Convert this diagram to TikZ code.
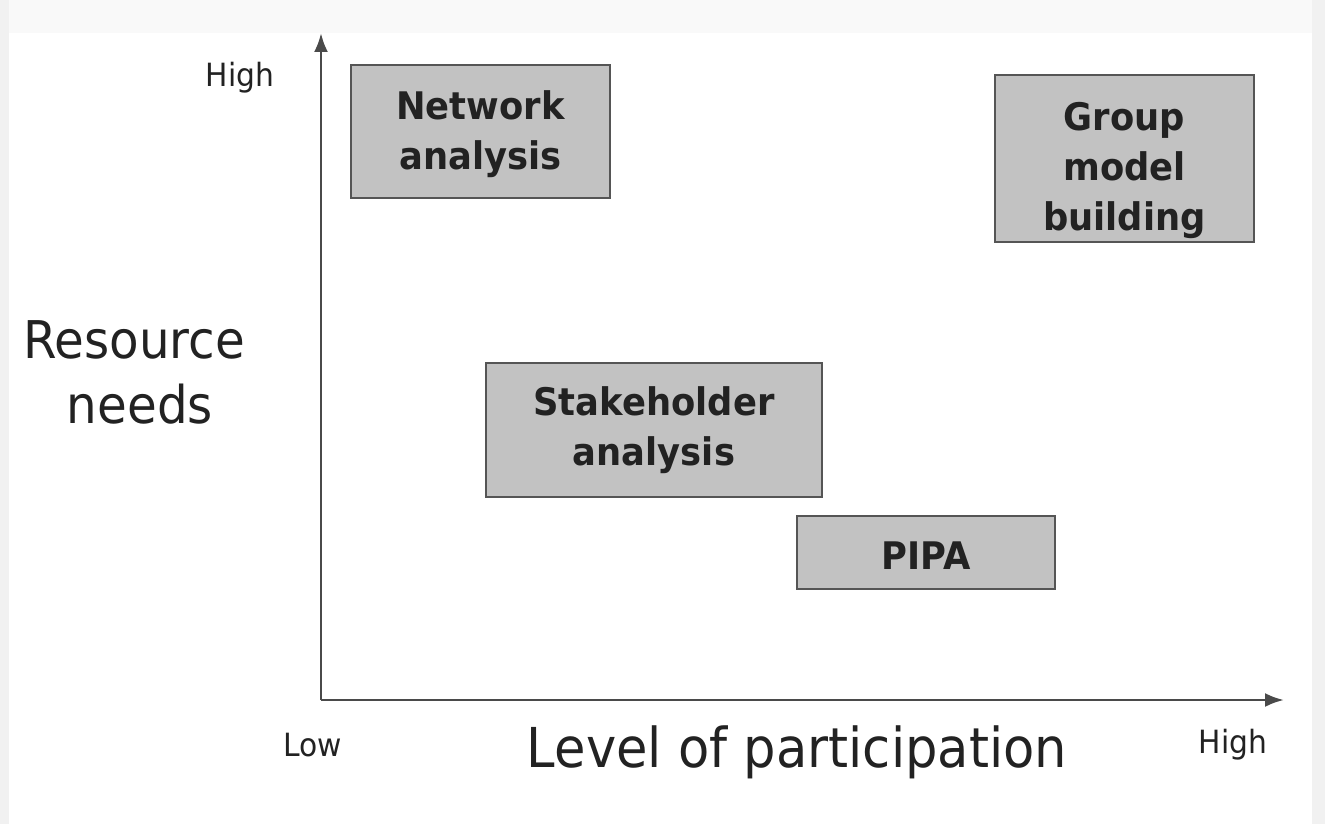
\documentclass[tikz,border=0pt]{standalone}
\usepackage{fontspec}
\setmainfont{DejaVu Sans}[FakeStretch=0.93]
\usetikzlibrary{arrows.meta}
\definecolor{boxfill}{HTML}{C2C2C2}
\definecolor{boxline}{HTML}{555555}
\definecolor{axisline}{HTML}{4A4A4A}
\definecolor{txt}{HTML}{222222}
\definecolor{edge}{HTML}{F1F1F1}
\definecolor{topband}{HTML}{F9F9F9}
\begin{document}
\begin{tikzpicture}[x=1pt,y=-1pt,
  method/.style={draw=boxline, line width=2pt, fill=boxfill, rectangle, inner sep=0pt},
  methodtext/.style={align=center, text=txt, inner sep=0pt, font=\fontsize{38}{50}\selectfont\bfseries},
  tick/.style={text=txt, font=\fontsize{32}{38}\selectfont, inner sep=0pt},
  axlabel/.style={text=txt, font=\fontsize{52}{65}\selectfont, inner sep=0pt, align=center},
  axis/.style={draw=axisline, line width=2.8pt, -{Latex[length=19pt,width=14pt]}}]
\useasboundingbox (0,0) rectangle (1325,824);
\fill[edge] (0,0) rectangle (1325,824);
\fill[topband] (9,0) rectangle (1312,824);
\fill[white] (9,33) rectangle (1312,824);
% axes
\coordinate (origin) at (321,700);
\coordinate (ytip) at (321,33);
\coordinate (xtip) at (1284,700);
\draw[axis] (origin) -- (ytip);
\draw[axis] (origin) -- (xtip);
% tick labels
\node[tick] (yhigh) at (240,78) {High};
\node[tick] (xlow) at (313,745) {Low};
\node[tick] (xhigh) at (1233,745) {High};
% axis titles
\node[axlabel] (ylab) at (134,372) {Resource\\\hspace*{12pt}needs};
\node[axlabel, font=\fontsize{55}{65}\selectfont] (xlab) at (797,752) {Level of participation};
% boxes
\node[method, minimum width=259pt, minimum height=133pt] (net) at (480.5,131.5) {};
\node[methodtext] (nettext) at (480.5,134) {Network\\analysis};
\node[method, minimum width=259pt, minimum height=167pt] (gmb) at (1124.5,158.5) {};
\node[methodtext] (gmbtext) at (1124.5,170) {Group\\model\\building};
\node[method, minimum width=336pt, minimum height=134pt] (stake) at (654,430) {};
\node[methodtext] (staketext) at (654,430.5) {Stakeholder\\analysis};
\node[method, minimum width=258pt, minimum height=73pt] (pipa) at (926,552.5) {};
\node[methodtext] (pipatext) at (926,556) {PIPA};
\end{tikzpicture}
\end{document}
